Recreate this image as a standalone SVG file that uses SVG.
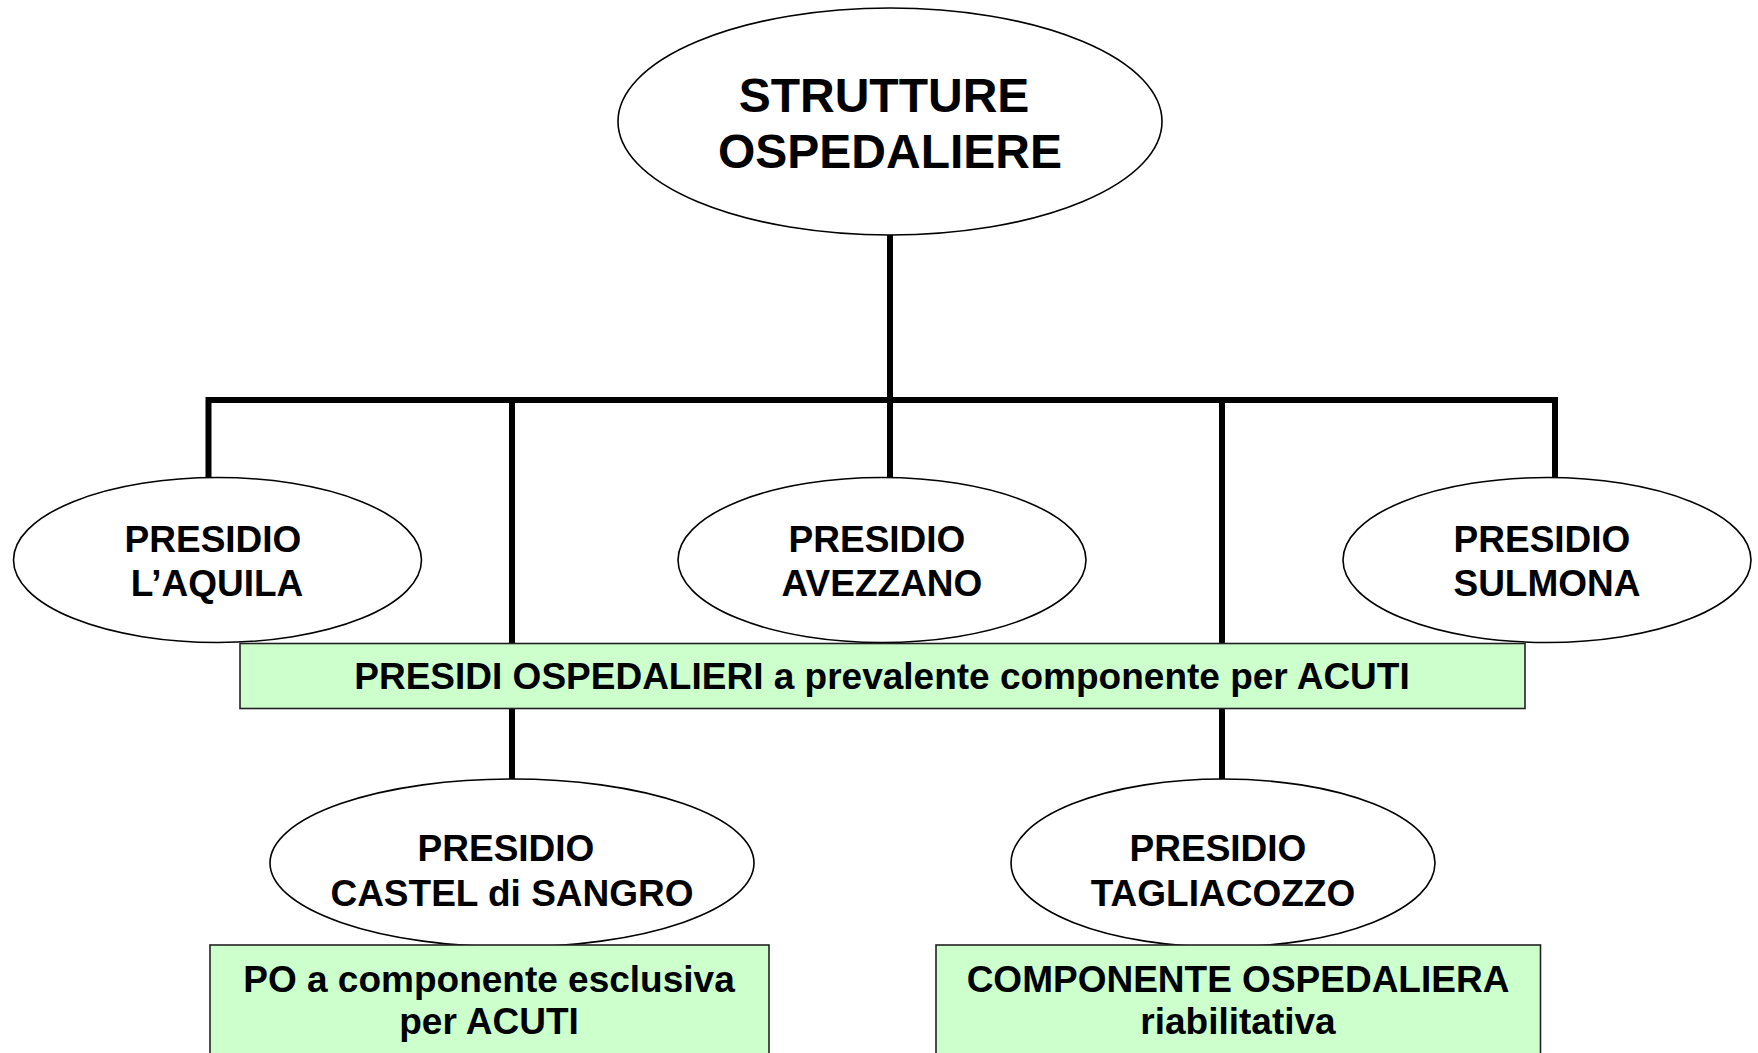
<svg xmlns="http://www.w3.org/2000/svg" width="1758" height="1053" viewBox="0 0 1758 1053">
<style>
.conn{fill:none;stroke:#000;stroke-width:6;stroke-linejoin:miter;stroke-linecap:square}
.ell{fill:#fff;stroke:#000;stroke-width:1.6}
.box{fill:#ccffcc;stroke:#222;stroke-width:1.6}
text{font-family:"Liberation Sans",Arial,sans-serif;font-weight:bold;fill:#000;text-anchor:middle}
.big{font-size:48px}
.med{font-size:37px}
</style>
<rect width="1758" height="1053" fill="#fff"/>
<g id="connectors">
<path class="conn" d="M890 235 V400"/>
<path class="conn" d="M208.5 478 V400 H1555 V478"/>
<path class="conn" d="M512 400 V779"/>
<path class="conn" d="M890 400 V478"/>
<path class="conn" d="M1222 400 V779"/>
</g>
<g id="root">
<ellipse class="ell" cx="890" cy="121.5" rx="272" ry="113.5"/>
<text class="big" x="884" y="112">STRUTTURE</text>
<text class="big" x="890" y="168">OSPEDALIERE</text>
</g>
<g id="laquila">
<ellipse class="ell" cx="217.5" cy="560" rx="204" ry="82.5"/>
<text class="med" x="213" y="552">PRESIDIO</text>
<text class="med" x="217" y="596">L’AQUILA</text>
</g>
<g id="avezzano">
<ellipse class="ell" cx="882" cy="560" rx="204" ry="82.5"/>
<text class="med" x="877" y="552">PRESIDIO</text>
<text class="med" x="882" y="596">AVEZZANO</text>
</g>
<g id="sulmona">
<ellipse class="ell" cx="1547" cy="560" rx="204" ry="82.5"/>
<text class="med" x="1542" y="552">PRESIDIO</text>
<text class="med" x="1547" y="596">SULMONA</text>
</g>
<g id="acuti-box">
<rect class="box" x="240" y="643.5" width="1285" height="65"/>
<text class="med" x="882" y="689">PRESIDI OSPEDALIERI a prevalente componente per ACUTI</text>
</g>
<g id="castel">
<ellipse class="ell" cx="512" cy="863" rx="242" ry="84"/>
<text class="med" x="506" y="861">PRESIDIO</text>
<text class="med" x="512" y="906">CASTEL di SANGRO</text>
</g>
<g id="tagliacozzo">
<ellipse class="ell" cx="1223" cy="863" rx="212" ry="84"/>
<text class="med" x="1218" y="861">PRESIDIO</text>
<text class="med" x="1223" y="906">TAGLIACOZZO</text>
</g>
<g id="esclusiva-box">
<rect class="box" x="210" y="945" width="559" height="120"/>
<text class="med" x="489" y="992">PO a componente esclusiva</text>
<text class="med" x="489" y="1034">per ACUTI</text>
</g>
<g id="riabilitativa-box">
<rect class="box" x="936" y="945" width="604.5" height="120"/>
<text class="med" x="1238" y="992">COMPONENTE OSPEDALIERA</text>
<text class="med" x="1238" y="1034">riabilitativa</text>
</g>
</svg>
